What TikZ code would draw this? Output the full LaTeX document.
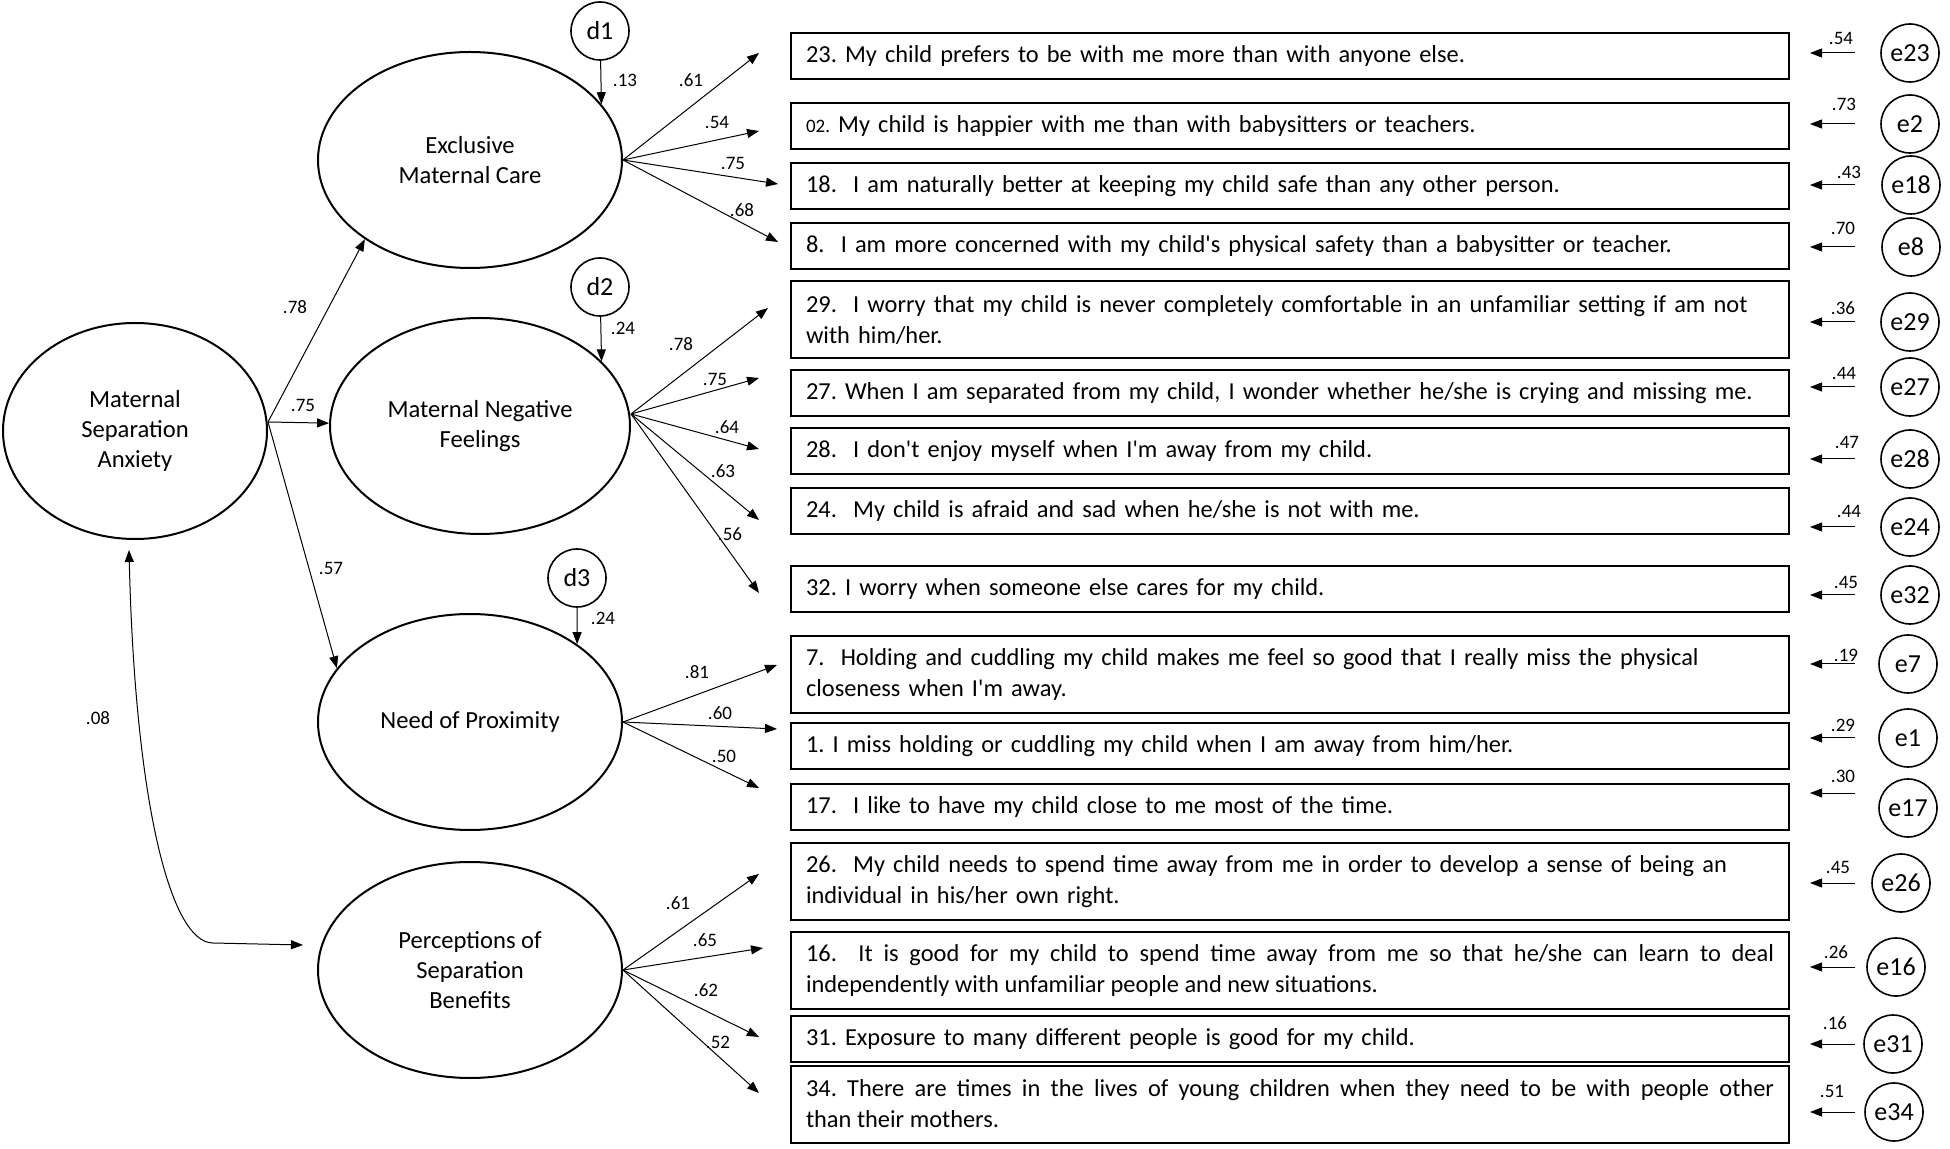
\documentclass[tikz,border=0pt]{standalone}
\usepackage{fontspec}
\setmainfont{Carlito}
\frenchspacing
\usetikzlibrary{shapes.geometric,arrows.meta}

\begin{document}
\begin{tikzpicture}[x=0.5pt, y=-0.5pt,
  latentnode/.style={draw, ellipse, line width=1pt, minimum width=152pt, minimum height=108pt, inner sep=0pt, align=center, font=\fontsize{12.3}{15}\selectfont},
  residnode/.style={draw, circle, line width=0.8pt, minimum size=29pt, inner sep=0pt, font=\fontsize{13}{15}\selectfont},
  itemnode/.style={draw, line width=1pt, anchor=west, text width=484pt, inner xsep=7.5pt, inner ysep=4pt, minimum height=23pt, align=left, font=\fontsize{12.2}{15.5}\selectfont},
  tallnode/.style={itemnode, minimum height=38.5pt},
  coefnode/.style={inner sep=0pt, font=\fontsize{9.5}{11}\selectfont},
  arrowline/.style={-{Triangle[length=6pt,width=4.5pt]}, line width=0.5pt},
  errline/.style={arrowline, shorten <=12.5pt, shorten >=10pt}]

\useasboundingbox (0,0) rectangle (1950,1149);

% latent factors
\node[latentnode, minimum width=132pt] (msa) at (135,431) {Maternal\\Separation\\Anxiety};
\node[latentnode] (emc) at (470,160) {Exclusive\\Maternal Care};
\node[latentnode, minimum width=150pt] (mnf) at (480,426) {Maternal Negative\\Feelings};
\node[latentnode] (nop) at (470,722) {Need of Proximity};
\node[latentnode] (psb) at (470,970) {Perceptions of\\Separation\\Benefits};

% disturbances
\node[residnode] (d1) at (600,31) {d1};
\node[residnode] (d2) at (600,287) {d2};
\node[residnode] (d3) at (577,578) {d3};

% items
\node[itemnode] (i23) at (790,56.5) {23. My child prefers to be with me more than with anyone else.};
\node[itemnode] (i02) at (790,126) {{\fontsize{9.5}{11}\selectfont 02.} My child is happier with me than with babysitters or teachers.};
\node[itemnode] (i18) at (790,186) {18.\ \ I am naturally better at keeping my child safe than any other person.};
\node[itemnode] (i8) at (790,246) {8.\ \ I am more concerned with my child\textquotesingle s physical safety than a babysitter or teacher.};
\node[tallnode] (i29) at (790,320) {29.\ \ I worry that my child is never completely comfortable in an unfamiliar setting if am not\\with him/her.};
\node[itemnode] (i27) at (790,393) {27. When I am separated from my child, I wonder whether he/she is crying and missing me.};
\node[itemnode] (i28) at (790,451) {28.\ \ I don\textquotesingle t enjoy myself when I\textquotesingle m away from my child.};
\node[itemnode] (i24) at (790,511) {24.\ \ My child is afraid and sad when he/she is not with me.};
\node[itemnode] (i32) at (790,589) {32. I worry when someone else cares for my child.};
\node[tallnode] (i7) at (790,674.5) {7.\ \ Holding and cuddling my child makes me feel so good that I really miss the physical\\closeness when I\textquotesingle m away.};
\node[itemnode] (i1) at (790,746.5) {1. I miss holding or cuddling my child when I am away from him/her.};
\node[itemnode] (i17) at (790,807) {17.\ \ I like to have my child close to me most of the time.};
\node[tallnode] (i26) at (790,881.5) {26.\ \ My child needs to spend time away from me in order to develop a sense of being an\\individual in his/her own right.};
\node[tallnode, align=justify] (i16) at (790,970.5) {16.\ \ It is good for my child to spend time away from me so that he/she can learn to deal\linebreak independently with unfamiliar people and new situations.};
\node[itemnode] (i31) at (790,1039) {31. Exposure to many different people is good for my child.};
\node[tallnode, align=justify] (i34) at (790,1104) {34. There are times in the lives of young children when they need to be with people other\linebreak than their mothers.};

% errors
\node[residnode] (e23) at (1910,53) {e23};
\node[residnode] (e2) at (1910,124) {e2};
\node[residnode] (e18) at (1911,185) {e18};
\node[residnode] (e8) at (1911,247) {e8};
\node[residnode] (e29) at (1910,322) {e29};
\node[residnode] (e27) at (1910,387) {e27};
\node[residnode] (e28) at (1910,459) {e28};
\node[residnode] (e24) at (1910,527) {e24};
\node[residnode] (e32) at (1910,595) {e32};
\node[residnode] (e7) at (1908,664) {e7};
\node[residnode] (e1) at (1908,738) {e1};
\node[residnode] (e17) at (1908,808) {e17};
\node[residnode] (e26) at (1901,883) {e26};
\node[residnode] (e16) at (1896,967) {e16};
\node[residnode] (e31) at (1893,1044) {e31};
\node[residnode] (e34) at (1894,1112) {e34};

% structural paths
\coordinate (msaout) at ([yshift=4.5pt]msa.east);
\draw[arrowline] (msaout) -- (emc.217);
\draw[arrowline] (msaout) -- (mnf);
\draw[arrowline] (msaout) -- (nop.158);
\coordinate (bend) at (213,943);
\draw[arrowline, {Triangle[length=6pt,width=4.5pt]}-{Triangle[length=6pt,width=4.5pt]}] ([xshift=-3pt,yshift=-5pt]msa.south) .. controls (135,800) and (170,943) .. (bend) -- ([xshift=-7pt,yshift=12.5pt]psb.west);
\draw[arrowline] (d1) -- (emc.23);
\draw[arrowline] (d2) -- (mnf.28);
\draw[arrowline] (d3) -- (nop.36);

% loadings
\draw[arrowline] (emc.east) -- ([xshift=-15.5pt,yshift=1.75pt]i23.west);
\draw[arrowline] (emc.east) -- ([xshift=-15.5pt,yshift=-2.5pt]i02.west);
\draw[arrowline] (emc.east) -- ([xshift=-6pt,yshift=1pt]i18.west);
\draw[arrowline] (emc.east) -- ([xshift=-6pt,yshift=2pt]i8.west);
\coordinate (mnfout) at ([yshift=6pt]mnf.east);
\draw[arrowline] (mnfout) -- ([xshift=-11pt,yshift=6pt]i29.west);
\draw[arrowline] (mnfout) -- ([xshift=-15.5pt,yshift=7.5pt]i27.west);
\draw[arrowline] (mnfout) -- ([xshift=-15.5pt,yshift=1pt]i28.west);
\draw[arrowline] (mnfout) -- ([xshift=-15.5pt,yshift=-4.5pt]i24.west);
\draw[arrowline] (mnfout) -- ([xshift=-15.5pt,yshift=-2pt]i32.west);
\draw[arrowline] (nop.east) -- ([xshift=-6.5pt,yshift=4.75pt]i7.west);
\draw[arrowline] (nop.east) -- ([xshift=-6.5pt,yshift=8.75pt]i1.west);
\draw[arrowline] (nop.east) -- ([xshift=-15.5pt,yshift=9.5pt]i17.west);
\draw[arrowline] (psb.east) -- ([xshift=-15.5pt,yshift=3.75pt]i26.west);
\draw[arrowline] (psb.east) -- ([xshift=-13.5pt,yshift=11.25pt]i16.west);
\draw[arrowline] (psb.east) -- ([xshift=-15.5pt,yshift=1pt]i31.west);
\draw[arrowline] (psb.east) -- ([xshift=-15.5pt,yshift=5.5pt]i34.west);

% error arrows
\draw[errline] (e23) -- (e23 -| i23.east);
\draw[errline] (e2) -- (e2 -| i02.east);
\draw[errline, shorten <=13pt] (e18) -- (e18 -| i18.east);
\draw[errline, shorten <=13pt] (e8) -- (e8 -| i8.east);
\draw[errline] (e29) -- (e29 -| i29.east);
\draw[errline] (e27) -- (e27 -| i27.east);
\draw[errline] (e28) -- (e28 -| i28.east);
\draw[errline] (e24) -- (e24 -| i24.east);
\draw[errline] (e32) -- (e32 -| i32.east);
\draw[errline, shorten <=11.5pt] (e7) -- (e7 -| i7.east);
\draw[errline, shorten <=11.5pt] (e1) -- (e1 -| i1.east);
\draw[errline, shorten <=11.5pt] ([yshift=7.5pt]e17.west) -- ([yshift=7.5pt]e17.west -| i17.east);
\draw[errline, shorten <=8pt] (e26) -- (e26 -| i26.east);
\draw[errline, shorten <=5.5pt] (e16) -- (e16 -| i16.east);
\draw[errline, shorten <=4pt] (e31) -- (e31 -| i31.east);
\draw[errline, shorten <=4.5pt] (e34) -- (e34 -| i34.east);

% coefficients
\node[coefnode] (lemc) at (295,307) {.78};
\node[coefnode] (lmnf) at (303,405) {.75};
\node[coefnode] (lnop) at (331,568) {.57};
\node[coefnode] (lcov) at (98,718) {.08};
\node[coefnode] (ld1) at (625,80) {.13};
\node[coefnode] (ld2) at (623,328) {.24};
\node[coefnode] (ld3) at (603,618) {.24};
\node[coefnode] (l23) at (691,80) {.61};
\node[coefnode] (l02) at (717,122) {.54};
\node[coefnode] (l18) at (733,163) {.75};
\node[coefnode] (l8) at (742,210) {.68};
\node[coefnode] (l29) at (681,344) {.78};
\node[coefnode] (l27) at (715,379) {.75};
\node[coefnode] (l28) at (727,427) {.64};
\node[coefnode] (l24) at (723,471) {.63};
\node[coefnode] (l32) at (730,534) {.56};
\node[coefnode] (l7) at (697,672) {.81};
\node[coefnode] (l1) at (720,713) {.60};
\node[coefnode] (l17) at (724,756) {.50};
\node[coefnode] (l26) at (678,903) {.61};
\node[coefnode] (l16) at (705,940) {.65};
\node[coefnode] (l31) at (706,990) {.62};
\node[coefnode] (l34) at (718,1042) {.52};
\node[coefnode] (le23) at (1841,38) {.54};
\node[coefnode] (le2) at (1844,104) {.73};
\node[coefnode] (le18) at (1849,172) {.43};
\node[coefnode] (le8) at (1843,228) {.70};
\node[coefnode] (le29) at (1843,308) {.36};
\node[coefnode] (le27) at (1844,373) {.44};
\node[coefnode] (le28) at (1847,442) {.47};
\node[coefnode] (le24) at (1849,511) {.44};
\node[coefnode] (le32) at (1846,582) {.45};
\node[coefnode] (le7) at (1846,655) {.19};
\node[coefnode] (le1) at (1843,725) {.29};
\node[coefnode] (le17) at (1843,776) {.30};
\node[coefnode] (le26) at (1838,867) {.45};
\node[coefnode] (le16) at (1836,952) {.26};
\node[coefnode] (le31) at (1835,1023) {.16};
\node[coefnode] (le34) at (1832,1091) {.51};
\end{tikzpicture}
\end{document}
